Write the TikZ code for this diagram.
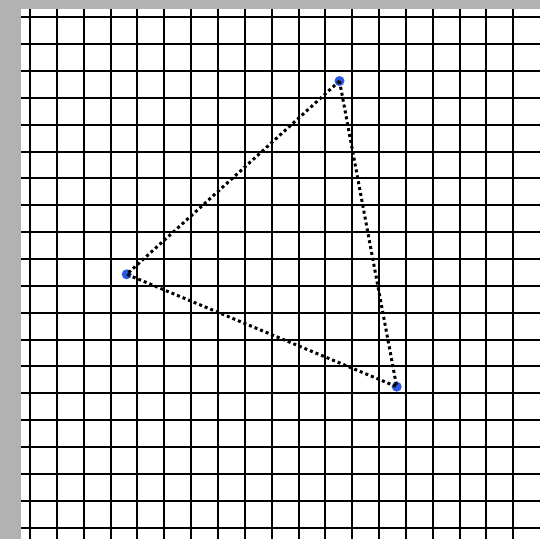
\documentclass[tikz,border=0pt]{standalone}
\definecolor{bggray}{RGB}{178,178,178}
\definecolor{dotblue}{RGB}{40,90,230}
\tikzset{
  gridline/.style={black, line width=2pt},
  vertex/.style={circle, fill=dotblue, inner sep=0pt, minimum size=10pt},
  edge/.style={black, line width=3pt, dash pattern=on 3pt off 3pt}
}
\begin{document}
\begin{tikzpicture}[x=1pt,y=-1pt]
\useasboundingbox (0,0) rectangle (540,539);
\fill[bggray] (0,0) rectangle (540,539);
\fill[white] (21,9) rectangle (540,539);
\foreach \k in {0,...,18} {
  \draw[gridline] ({30+26.85*\k},9) -- ({30+26.85*\k},539);
}
\foreach \k in {0,...,19} {
  \draw[gridline] (21,{17.3+26.86*\k}) -- (540,{17.3+26.86*\k});
}
\node[vertex] (a) at (339.5,81) {};
\node[vertex] (b) at (126.7,274.3) {};
\node[vertex] (c) at (396.7,386.7) {};
\draw[edge] (a.center) -- (b.center) -- (c.center) -- (a.center);
\end{tikzpicture}
\end{document}
